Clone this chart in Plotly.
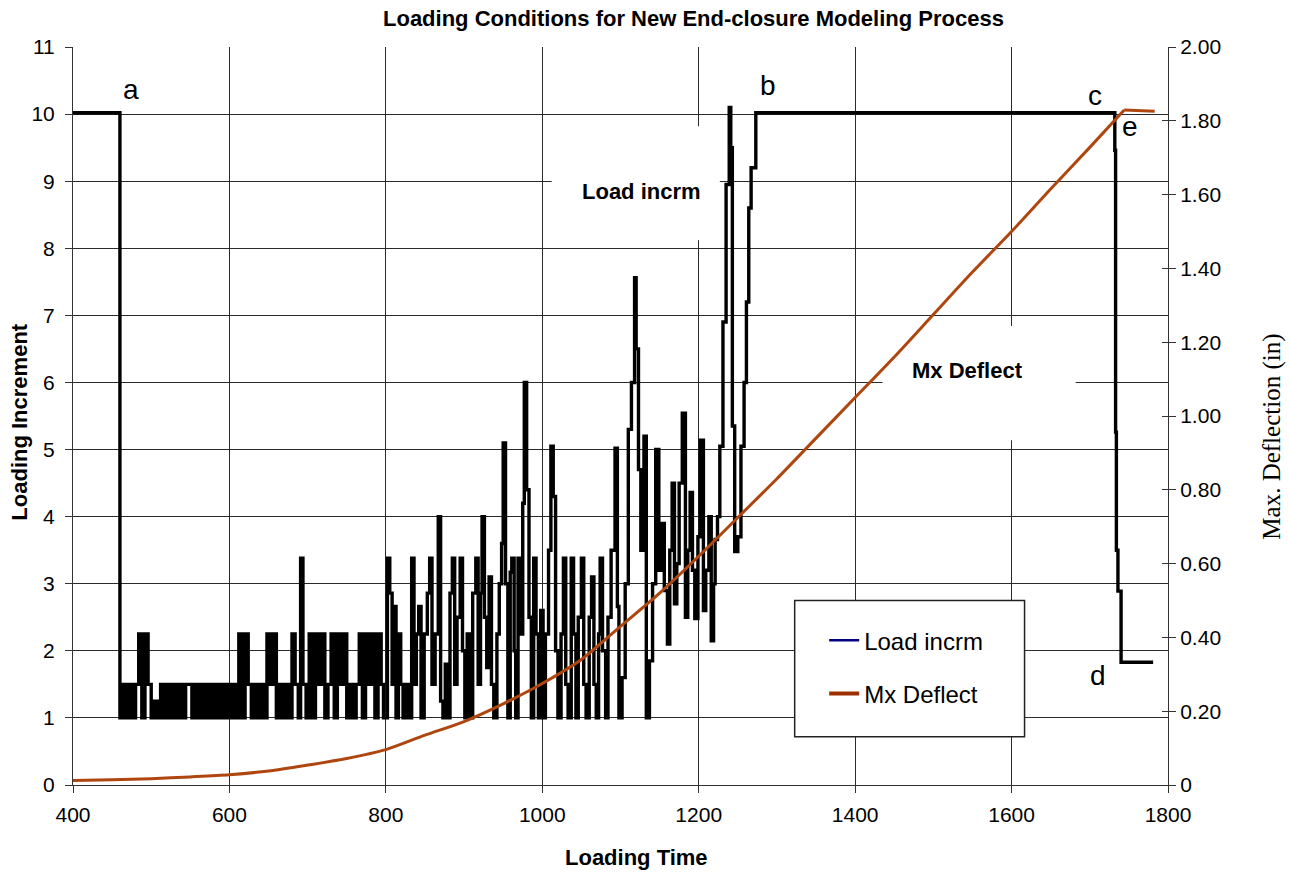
import plotly.graph_objects as go

# ---------------- data ----------------
# Loading increment (left axis) : time / value pairs
LOAD_TIME = [
    400, 458, 460, 464, 468, 472, 476, 480, 484, 488, 492, 496, 500, 504, 508, 512, 516, 520, 524, 528,
    532, 536, 540, 544, 548, 552, 556, 560, 564, 568, 572, 576, 580, 584, 588, 592, 596, 600, 604, 608,
    612, 616, 620, 624, 628, 632, 636, 640, 644, 648, 652, 656, 660, 664, 668, 672, 676, 680, 684, 688,
    691, 694, 698, 702, 706, 710, 714, 718, 722, 726, 730, 734, 738, 742, 746, 750, 754, 758, 762, 766,
    770, 774, 778, 782, 786, 790, 794, 797,
    802, 805, 808, 810, 813, 816, 819, 822, 826, 829, 833, 836, 839, 842, 845, 849, 853, 856, 859, 863,
    867, 870, 873, 876, 879, 882, 885, 888, 891, 895, 898, 901, 904, 907, 911, 915, 918, 921, 923, 926,
    929, 932, 935, 938, 942, 945, 948, 950, 953, 956, 959, 961, 964, 966, 969, 972, 975, 977, 980, 983,
    986, 989, 992, 995, 998, 1001, 1004, 1008, 1011, 1014, 1017, 1020, 1024, 1027, 1030, 1033, 1037, 1040, 1043, 1046,
    1050, 1053, 1056, 1060, 1063, 1066, 1069, 1072, 1074, 1077, 1081, 1084, 1088, 1093, 1096, 1098, 1102, 1106, 1110, 1114,
    1118, 1120, 1123, 1126, 1130, 1133,
    1137, 1141, 1145, 1149, 1153, 1156, 1160, 1163, 1166, 1169, 1172, 1175, 1179, 1183, 1186, 1189, 1192, 1195, 1199, 1202,
    1206, 1209, 1213, 1216, 1219, 1221, 1224, 1227, 1231, 1235, 1239, 1241, 1243, 1246, 1250, 1254, 1258, 1261, 1264, 1267,
    1273, 1731, 1732, 1733, 1734, 1736, 1740, 1781,
]
LOAD_VALUE = [
    10.02, 10.02, 1.0, 1.5, 1.0, 1.5, 1.0, 1.5, 2.25, 1.0, 2.25, 1.5, 1.0, 1.25, 1.0, 1.5, 1.0, 1.5, 1.0, 1.5,
    1.0, 1.5, 1.0, 1.5, 1.5, 1.0, 1.5, 1.0, 1.5, 1.0, 1.5, 1.0, 1.5, 1.0, 1.5, 1.0, 1.5, 1.0, 1.5, 1.0,
    2.25, 1.0, 2.25, 1.5, 1.0, 1.5, 1.0, 1.5, 1.0, 2.25, 1.5, 2.25, 1.0, 1.5, 1.0, 1.5, 1.0, 2.25, 1.5, 1.0,
    3.38, 1.5, 1.0, 2.25, 1.0, 2.25, 1.5, 2.25, 1.0, 1.5, 2.25, 1.0, 2.25, 1.5, 2.25, 1.0, 1.5, 1.0, 1.5, 2.25,
    1.0, 2.25, 1.5, 2.25, 1.0, 2.25, 1.5, 1.0,
    3.38, 2.86, 1.5, 2.66, 1.0, 2.25, 1.5, 1.0, 1.5, 1.0, 3.38, 1.5, 2.25, 2.66, 1.0, 2.25, 2.86, 3.38, 1.5, 2.25,
    4.0, 1.25, 1.0, 1.8, 1.0, 2.86, 3.38, 1.5, 2.5, 3.38, 2.0, 1.0, 2.25, 1.0, 2.86, 3.38, 1.5, 2.86, 4.0, 2.5,
    1.75, 3.1, 1.5, 1.0, 2.25, 3.0, 3.6, 5.1, 3.0, 1.0, 3.17, 3.38, 2.0, 1.0, 3.38, 2.25, 4.2, 6.0, 4.4, 2.5,
    1.0, 3.38, 2.25, 1.0, 2.6, 1.0, 2.25, 3.5, 5.05, 4.3, 2.0, 1.0, 2.25, 3.38, 1.5, 1.0, 3.38, 2.25, 1.0, 2.5,
    3.38, 1.5, 1.0, 2.5, 3.1, 1.5, 1.0, 2.25, 3.38, 2.0, 1.0, 2.5, 3.5, 5.02, 2.66, 1.0, 1.6, 3.0, 5.3, 6.0,
    7.56, 6.5, 4.7, 3.5, 5.2, 1.0,
    1.85, 3.0, 5.0, 3.2, 3.9, 2.9, 2.1, 3.5, 4.5, 2.7, 3.3, 4.5, 5.54, 2.5, 3.5, 4.36, 3.2, 2.48, 3.7, 5.14,
    2.6, 3.2, 4.0, 2.15, 3.0, 3.66, 4.0, 5.05, 6.9, 8.95, 10.1, 9.5, 5.35, 3.48, 3.7, 5.05, 6.0, 7.2, 8.6, 9.2,
    10.02, 10.02, 9.46, 5.26, 3.5, 2.89, 1.83, 1.83,
]

# Maximum deflection (right axis, in): rising part and final plateau
DEFL_TIME = [400, 450, 500, 550, 600, 650, 700, 750, 800, 850, 900, 950, 1000, 1050, 1100, 1150,
             1200, 1250, 1300, 1350, 1400, 1450, 1500, 1550, 1600, 1650, 1700, 1744]
DEFL_VALUE = [0.012, 0.014, 0.017, 0.022, 0.028, 0.038, 0.054, 0.072, 0.096, 0.135, 0.172, 0.22, 0.275,
              0.34, 0.43, 0.52, 0.62, 0.725, 0.83, 0.94, 1.05, 1.16, 1.275, 1.39, 1.50, 1.615, 1.728,
              1.829]
DEFL_END_TIME = [1744, 1783]
DEFL_END_VALUE = [1.829, 1.826]

SERIES_NAMES = ["Load incrm", "Mx Deflect"]
RIGHT_TICKS = [0, 0.2, 0.4, 0.6, 0.8, 1.0, 1.2, 1.4, 1.6, 1.8, 2.0]
RIGHT_TICK_TEXT = ["0", "0.20", "0.40", "0.60", "0.80", "1.00", "1.20", "1.40", "1.60", "1.80", "2.00"]

TITLE = "Loading Conditions for New End-closure Modeling Process"
X_TITLE = "Loading Time"
Y_TITLE = "Loading Increment"
Y2_TITLE = "Max. Deflection (in)"

POINT_LABELS = ["a", "b", "c", "d", "e"]
POINT_LABEL_T = [474, 1289, 1707, 1710, 1751]
POINT_LABEL_V = [10.37, 10.43, 10.27, 1.63, 9.82]

# ---------------- figure ----------------
FONT = "Arial, Liberation Sans, sans-serif"
DEFL_COLOR = "#B0460F"
TICK_SIZE = 21

fig = go.Figure()
fig.add_trace(go.Scatter(x=LOAD_TIME, y=LOAD_VALUE, mode="lines", name=SERIES_NAMES[0],
                         line=dict(color="black", width=3.4, shape="hv"), showlegend=False, yaxis="y"))
fig.add_trace(go.Scatter(x=DEFL_TIME, y=DEFL_VALUE, mode="lines", name=SERIES_NAMES[1],
                         line=dict(color=DEFL_COLOR, width=3, shape="spline", smoothing=0.8),
                         showlegend=False, yaxis="y2"))
fig.add_trace(go.Scatter(x=DEFL_END_TIME, y=DEFL_END_VALUE, mode="lines", name=SERIES_NAMES[1],
                         line=dict(color=DEFL_COLOR, width=3), showlegend=False, yaxis="y2"))
# legend entries (as shown in the original legend)
fig.add_trace(go.Scatter(x=[None], y=[None], mode="lines", name=SERIES_NAMES[0],
                         line=dict(color="#000080", width=2.5), legendgroup="g1", yaxis="y"))
fig.add_trace(go.Scatter(x=[None], y=[None], mode="lines", name=SERIES_NAMES[1],
                         line=dict(color="#9E3000", width=4), legendgroup="g2", yaxis="y"))
# invisible trace for the inner-tick axis
fig.add_trace(go.Scatter(x=[None], y=[None], showlegend=False, yaxis="y3", hoverinfo="skip"))

GRID = "#2a2a2a"
fig.update_layout(
    width=1289, height=873, autosize=False,
    margin=dict(l=73, r=121, t=47, b=88),
    paper_bgcolor="white", plot_bgcolor="white",
    font=dict(family=FONT, color="black", size=TICK_SIZE),
    title=dict(text="<b>" + TITLE + "</b>", x=0.538, xanchor="center", y=0.979, yanchor="middle",
               yref="container", font=dict(size=22, family=FONT, color="black")),
    xaxis=dict(range=[400, 1800], tick0=400, dtick=200, showgrid=True, gridcolor=GRID, gridwidth=1,
               showline=True, linecolor="#333", linewidth=1, ticks="outside", ticklen=7, tickcolor="#333",
               zeroline=False, tickfont=dict(size=TICK_SIZE), ticklabelstandoff=4),
    yaxis=dict(range=[0, 11], tick0=0, dtick=1, showgrid=True, gridcolor=GRID, gridwidth=1,
               showline=True, linecolor="#333", linewidth=1, ticks="outside", ticklen=7, tickcolor="#333",
               zeroline=False, tickfont=dict(size=TICK_SIZE), ticklabelstandoff=6),
    yaxis2=dict(range=[0, 2], overlaying="y", side="right", tickvals=RIGHT_TICKS, ticktext=RIGHT_TICK_TEXT,
                showgrid=False, showline=True, linecolor="#333", linewidth=1, ticks="outside", ticklen=7,
                tickcolor="#333", zeroline=False, tickfont=dict(size=TICK_SIZE)),
    yaxis3=dict(range=[0, 2], overlaying="y", side="right", tickvals=RIGHT_TICKS, showticklabels=False,
                showgrid=False, showline=False, ticks="inside", ticklen=6, tickcolor="#333", zeroline=False),
    legend=dict(x=0.686, y=0.226, xanchor="left", yanchor="top", bgcolor="rgba(0,0,0,0)",
                font=dict(size=24, family=FONT), tracegroupgap=19, itemwidth=30),
    showlegend=True,
)

# white boxes behind the in-plot labels and the legend frame
fig.add_shape(type="rect", xref="x", yref="y", x0=1012, x1=1227, y0=8.12, y1=9.82,
              fillcolor="white", line=dict(width=0), layer="between")
fig.add_shape(type="rect", xref="x", yref="y", x0=1435, x1=1682, y0=5.14, y1=6.84,
              fillcolor="white", line=dict(width=0), layer="between")
fig.add_shape(type="rect", xref="x", yref="y", x0=1322.7, x1=1616.6, y0=0.72, y1=2.75,
              fillcolor="white", line=dict(width=1.5, color="#222"), layer="above")

C = dict(xanchor="center", yanchor="middle", showarrow=False)
annotations = [
    dict(text="<b>Load incrm</b>", x=1127, y=8.85, xref="x", yref="y", font=dict(size=22), **C),
    dict(text="<b>Mx Deflect</b>", x=1544, y=6.18, xref="x", yref="y", font=dict(size=22), **C),
    dict(text="<b>" + X_TITLE + "</b>", x=0.515, y=-0.098, xref="paper", yref="paper",
         font=dict(size=22), **C),
    dict(text="<b>" + Y_TITLE + "</b>", x=-0.0484, y=0.491, xref="paper", yref="paper",
         textangle=-90, font=dict(size=22), **C),
    dict(text=Y2_TITLE, x=1.095, y=0.472, xref="paper", yref="paper", textangle=-90,
         font=dict(size=25, family="Times New Roman, Liberation Serif, serif"), **C),
]
for lab, t, v in zip(POINT_LABELS, POINT_LABEL_T, POINT_LABEL_V):
    annotations.append(dict(text=lab, x=t, y=v, xref="x", yref="y",
                            font=dict(size=28, family=FONT), **C))
fig.update_layout(annotations=annotations)

fig.write_html("out.html")
